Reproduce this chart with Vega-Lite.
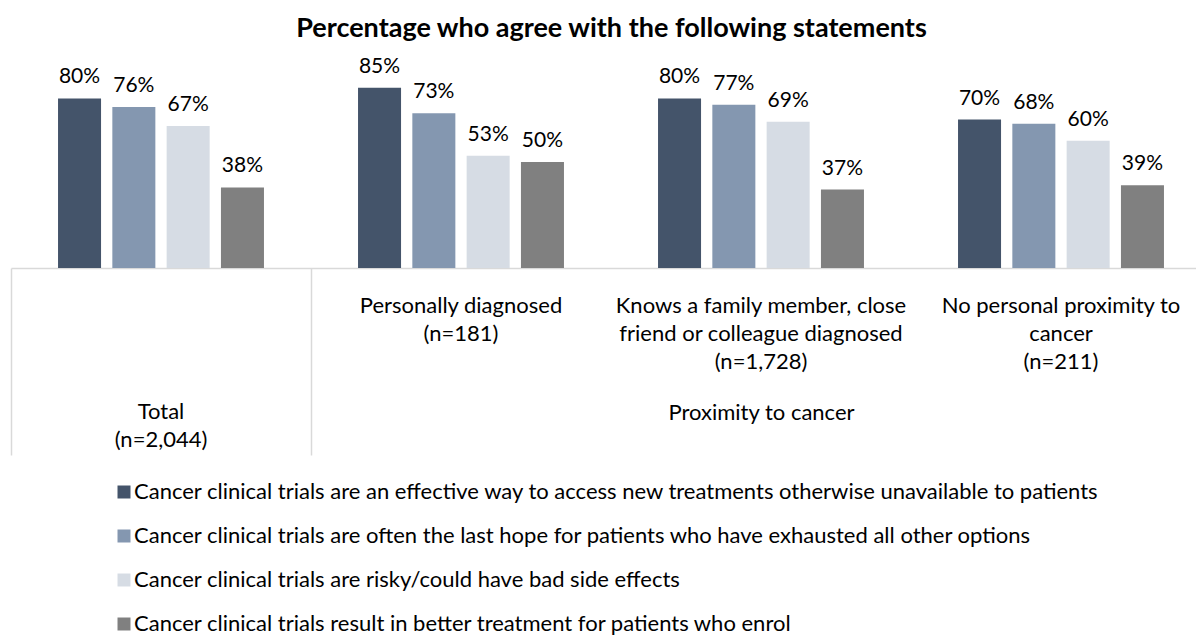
{
  "$schema": "https://vega.github.io/schema/vega-lite/v6.json",
  "width": 1185,
  "height": 212,
  "autosize": {"type": "none"},
  "padding": {"left": 11, "top": 56, "right": 0, "bottom": 367},
  "background": "white",
  "title": {
    "text": "Percentage who agree with the following statements",
    "font": "Lato", "fontSize": 27, "fontWeight": "bold", "color": "#000000",
    "anchor": "middle", "frame": "group", "baseline": "alphabetic", "offset": -8, "dx": 8
  },
  "data": {
    "values": [
      {"group": "Total (n=2,044)", "statement": "Cancer clinical trials are an effective way to access new treatments otherwise unavailable to patients", "pct": 0.80},
      {"group": "Total (n=2,044)", "statement": "Cancer clinical trials are often the last hope for patients who have exhausted all other options", "pct": 0.76},
      {"group": "Total (n=2,044)", "statement": "Cancer clinical trials are risky/could have bad side effects", "pct": 0.67},
      {"group": "Total (n=2,044)", "statement": "Cancer clinical trials result in better treatment for patients who enrol", "pct": 0.38},
      {"group": "Personally diagnosed (n=181)", "statement": "Cancer clinical trials are an effective way to access new treatments otherwise unavailable to patients", "pct": 0.85},
      {"group": "Personally diagnosed (n=181)", "statement": "Cancer clinical trials are often the last hope for patients who have exhausted all other options", "pct": 0.73},
      {"group": "Personally diagnosed (n=181)", "statement": "Cancer clinical trials are risky/could have bad side effects", "pct": 0.53},
      {"group": "Personally diagnosed (n=181)", "statement": "Cancer clinical trials result in better treatment for patients who enrol", "pct": 0.50},
      {"group": "Knows a family member, close friend or colleague diagnosed (n=1,728)", "statement": "Cancer clinical trials are an effective way to access new treatments otherwise unavailable to patients", "pct": 0.80},
      {"group": "Knows a family member, close friend or colleague diagnosed (n=1,728)", "statement": "Cancer clinical trials are often the last hope for patients who have exhausted all other options", "pct": 0.77},
      {"group": "Knows a family member, close friend or colleague diagnosed (n=1,728)", "statement": "Cancer clinical trials are risky/could have bad side effects", "pct": 0.69},
      {"group": "Knows a family member, close friend or colleague diagnosed (n=1,728)", "statement": "Cancer clinical trials result in better treatment for patients who enrol", "pct": 0.37},
      {"group": "No personal proximity to cancer (n=211)", "statement": "Cancer clinical trials are an effective way to access new treatments otherwise unavailable to patients", "pct": 0.70},
      {"group": "No personal proximity to cancer (n=211)", "statement": "Cancer clinical trials are often the last hope for patients who have exhausted all other options", "pct": 0.68},
      {"group": "No personal proximity to cancer (n=211)", "statement": "Cancer clinical trials are risky/could have bad side effects", "pct": 0.60},
      {"group": "No personal proximity to cancer (n=211)", "statement": "Cancer clinical trials result in better treatment for patients who enrol", "pct": 0.39}
    ]
  },
  "encoding": {
    "x": {
      "field": "group", "type": "nominal",
      "sort": ["Total (n=2,044)", "Personally diagnosed (n=181)", "Knows a family member, close friend or colleague diagnosed (n=1,728)", "No personal proximity to cancer (n=211)"],
      "scale": {"range": [0, 1200], "paddingInner": 0, "paddingOuter": 0},
      "axis": {
        "title": "Proximity to cancer",
        "titleX": 750, "titleY": 134, "titleAlign": "center", "titleBaseline": "top",
        "titleFont": "Lato", "titleFontSize": 22, "titleFontWeight": "normal", "titleColor": "#000000",
        "bandPosition": 0,
        "labelOffset": 0,
        "labelAngle": 0,
        "domain": true, "domainColor": "#D9D9D9", "domainWidth": 1.5,
        "ticks": true, "tickColor": "#D9D9D9", "tickWidth": 1.5, "tickSize": 187,
        "tickOpacity": {"condition": {"test": "datum.value == 'Total (n=2,044)' || datum.value == 'Personally diagnosed (n=181)'", "value": 1}, "value": 0},
        "labelPadding": {"condition": {"test": "datum.value == 'Total (n=2,044)'", "value": -54}, "value": -160},
        "labelFont": "Lato", "labelFontSize": 22, "labelColor": "#000000",
        "labelLineHeight": 28, "labelBaseline": "top", "labelAlign": "center",
        "labelLimit": 600, "labelOverlap": false, "labelBound": false, "labelFlush": false,
        "labelExpr": "datum.value == 'Total (n=2,044)' ? ['Total', '(n=2,044)'] : datum.value == 'Personally diagnosed (n=181)' ? ['Personally diagnosed', '(n=181)'] : datum.value == 'No personal proximity to cancer (n=211)' ? ['No personal proximity to', 'cancer', '(n=211)'] : ['Knows a family member, close', 'friend or colleague diagnosed', '(n=1,728)']"
      }
    },
    "xOffset": {
      "field": "statement", "type": "nominal",
      "sort": ["Cancer clinical trials are an effective way to access new treatments otherwise unavailable to patients", "Cancer clinical trials are often the last hope for patients who have exhausted all other options", "Cancer clinical trials are risky/could have bad side effects", "Cancer clinical trials result in better treatment for patients who enrol"],
      "scale": {"paddingInner": 0.208, "paddingOuter": 0.866}
    },
    "y": {"field": "pct", "type": "quantitative", "scale": {"domain": [0, 1]}, "axis": null}
  },
  "layer": [
    {
      "mark": {"type": "bar"},
      "encoding": {
        "color": {
          "field": "statement", "type": "nominal",
          "scale": {
            "domain": ["Cancer clinical trials are an effective way to access new treatments otherwise unavailable to patients", "Cancer clinical trials are often the last hope for patients who have exhausted all other options", "Cancer clinical trials are risky/could have bad side effects", "Cancer clinical trials result in better treatment for patients who enrol"],
            "range": ["#44546A", "#8497B0", "#D6DCE4", "#808080"]
          },
          "legend": {
            "orient": "none", "legendX": 102, "legendY": 425, "direction": "vertical",
            "title": null, "symbolType": "square", "symbolSize": 169, "symbolStrokeWidth": 0,
            "labelFont": "Lato", "labelFontSize": 22, "labelColor": "#000000", "labelLimit": 1200,
            "rowPadding": 22, "labelOffset": -1, "padding": 0
          }
        }
      }
    },
    {
      "mark": {"type": "text", "baseline": "alphabetic", "dy": -15, "font": "Lato", "fontSize": 21, "color": "#000000"},
      "encoding": {"text": {"field": "pct", "type": "quantitative", "format": ".0%"}}
    }
  ],
  "config": {"view": {"stroke": null}}
}
